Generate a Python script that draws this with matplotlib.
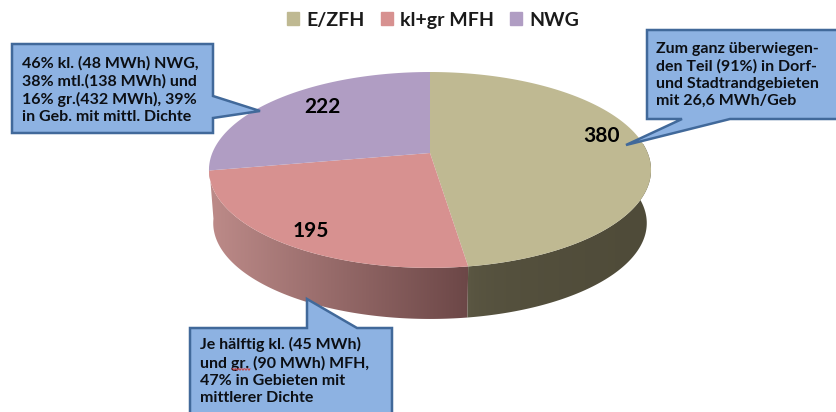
"""Energy demand by building type, drawn as a tilted 3D pie with callouts."""
import numpy as np
import matplotlib
matplotlib.use("Agg")
import matplotlib.pyplot as plt
from matplotlib.patches import Patch, Polygon

# data
categories = ["E/ZFH", "kl+gr MFH", "NWG"]
values = [380, 195, 222]
value_label_pos = [(601, 136), (311, 231), (322, 107)]

top_colors = ["#bfb992", "#d79190", "#b09dc3"]
wall_colors = [("#5f5b46", "#4f4b39"), ("#bd8b89", "#6c4747")]

callout_texts = [
    "Zum ganz überwiegen-\nden Teil (91%) in Dorf-\nund Stadtrandgebieten\nmit 26,6 MWh/Geb",
    "Je hälftig kl. (45 MWh)\nund gr. (90 MWh) MFH,\n47% in Gebieten mit\nmittlerer Dichte",
    "46% kl. (48 MWh) NWG,\n38% mtl.(138 MWh) und\n16% gr.(432 MWh), 39%\nin Geb. mit mittl. Dichte",
]
callout_shapes = [
    [(647, 30), (840, 30), (840, 119), (730, 119), (626, 145), (682, 119), (647, 119)],
    [(190, 328), (307, 328), (307, 299), (357, 328), (392, 328), (392, 420), (190, 420)],
    [(12, 44), (213, 44), (213, 96), (260, 111), (213, 118), (213, 133), (12, 133)],
]
callout_text_pos = [(656, 75), (200, 371), (22, 90)]


def disc_point(theta, cx=430, cy=153, a=217.7, b=95.0, k=-0.173):
    # theta in radians, clockwise from the back of the disc, with perspective
    u = np.sin(theta)
    v = -np.cos(theta)
    w = 1 + k * v
    return cx + a * u / w, cy + b * v / w


def bottom_point(theta):
    return disc_point(theta, cy=206.5, a=213.5, b=93.0)


def draw_wall(ax, start, stop, colors, gamma=1.0):
    t = np.linspace(start, stop, 120)
    tx, ty = disc_point(t)
    bx, by = bottom_point(t[::-1])
    pts = np.column_stack([np.r_[tx, bx], np.r_[ty, by]])
    clip = Polygon(pts, closed=True, fc="none", ec="none", transform=ax.transData)
    ax.add_patch(clip)
    c0 = np.array(matplotlib.colors.to_rgb(colors[0]))
    c1 = np.array(matplotlib.colors.to_rgb(colors[1]))
    ramp = np.linspace(0, 1, 256)[:, None] ** gamma
    # shade runs from the left end of the wall to the right end
    img = (c0 * (1 - ramp) + c1 * ramp)[None, :, :]
    im = ax.imshow(img, extent=(pts[:, 0].min(), pts[:, 0].max(), pts[:, 1].max(), pts[:, 1].min()),
                   aspect="auto", zorder=1)
    im.set_clip_path(clip)


fig = plt.figure(figsize=(8.36, 4.12), dpi=100)
ax = fig.add_axes([0, 0, 1, 1])
plt.rcParams["font.family"] = ["Lato", "DejaVu Sans"]

edges = np.r_[0, np.cumsum(values)] / np.sum(values) * 2 * np.pi

# side walls, only the pink and the tan slice reach the front
draw_wall(ax, edges[1], edges[2] + 0.05, wall_colors[1])
draw_wall(ax, np.pi / 2 - 0.1, edges[1], wall_colors[0], gamma=0.3)

# top of the disc
for i, col in enumerate(top_colors):
    t = np.linspace(edges[i], edges[i + 1], 150)
    x, y = disc_point(t)
    ax.fill(np.r_[430, x], np.r_[153, y], color=col, lw=0, zorder=2)

for val, (x, y) in zip(values, value_label_pos):
    ax.text(x, y, str(val), ha="center", va="center", fontsize=15, fontweight="bold",
            color="black", zorder=3)

# callouts
for shape, txt, (x, y) in zip(callout_shapes, callout_texts, callout_text_pos):
    ax.add_patch(Polygon(shape, closed=True, fc="#8db2e2", ec="#41699a", lw=1.8, zorder=4,
                         joinstyle="miter"))
    ax.text(x, y, txt, ha="left", va="center", fontsize=11.5, fontweight="bold",
            color="#0c0f14", linespacing=1.27, zorder=5)

# spell-check squiggle under "gr."
sx = np.arange(232, 251, 1.0)
ax.plot(sx, 369.5 + 0.8 * np.where(sx % 3 == 0, 1, -1), color="#d04040", lw=0.7, zorder=6)

handles = [Patch(color=c, label=n) for c, n in zip(top_colors, categories)]
ax.legend(handles=handles, ncol=3, frameon=False, loc="center", bbox_to_anchor=(433, 20),
          bbox_transform=ax.transData, prop={"size": 14, "weight": "bold"},
          handlelength=0.62, handleheight=0.62, handletextpad=0.35, columnspacing=0.85,
          labelcolor="#1a1a1a")

ax.set_xlim(0, 836)
ax.set_ylim(412, 0)
ax.axis("off")
fig.savefig("out.png", dpi=100)
